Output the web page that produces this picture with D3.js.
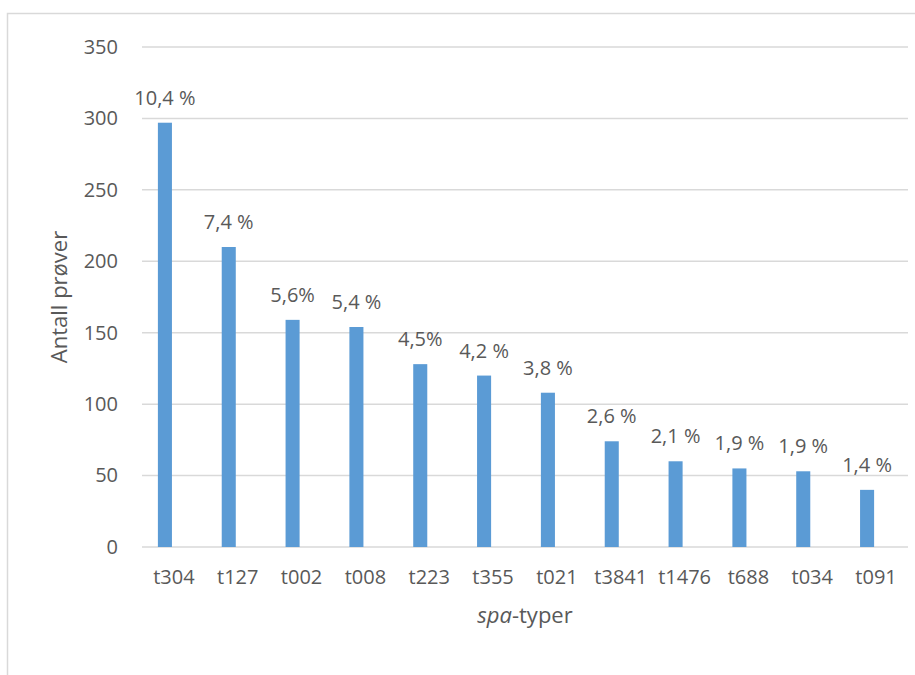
<!DOCTYPE html>
<html>
<head>
<meta charset="utf-8">
<script src="https://cdn.jsdelivr.net/npm/d3@7"></script>
<style>
  html, body { margin: 0; padding: 0; background: #fff; }
  svg text { font-family: "Open Sans", Lato, sans-serif; fill: #595959; }
</style>
</head>
<body>
<svg id="chart" width="915" height="675"></svg>
<script>
// spa-types and sample counts
const categories = ["t304", "t127", "t002", "t008", "t223", "t355", "t021", "t3841", "t1476", "t688", "t034", "t091"];
const counts = [297, 210, 159, 154, 128, 120, 108, 74, 60, 55, 53, 40];
const shareLabels = ["10,4 %", "7,4 %", "5,6%", "5,4 %", "4,5%", "4,2 %", "3,8 %", "2,6 %", "2,1 %", "1,9 %", "1,9 %", "1,4 %"];
const yTicks = [0, 50, 100, 150, 200, 250, 300, 350];

const svg = d3.select("#chart");
const plot = { left: 142, right: 908, top: 47, bottom: 547 };
const tickFont = 20;
const barShift = -9; // bars sit slightly left of their category centre

// chart frame (left and top edges visible)
svg.append("rect")
  .attr("x", 7.5).attr("y", 13.5)
  .attr("width", 930).attr("height", 700)
  .attr("fill", "none").attr("stroke", "#d9d9d9").attr("stroke-width", 1.5);

const x = d3.scaleBand()
  .domain(categories)
  .range([plot.left, plot.right])
  .paddingInner(0.78)
  .paddingOuter(0.39);

const y = d3.scaleLinear()
  .domain([0, 350])
  .range([plot.bottom, plot.top]);

// horizontal gridlines
svg.append("g")
  .selectAll("line")
  .data(yTicks)
  .join("line")
  .attr("x1", plot.left).attr("x2", plot.right)
  .attr("y1", d => y(d)).attr("y2", d => y(d))
  .attr("stroke", "#d9d9d9").attr("stroke-width", 1.5);

// y axis labels
const yAxis = d3.axisLeft(y).tickValues(yTicks).tickSize(0).tickPadding(24);
svg.append("g")
  .attr("transform", `translate(${plot.left},0)`)
  .call(yAxis)
  .call(g => g.select(".domain").remove())
  .call(g => g.selectAll("text")
    .style("font-family", "'Open Sans', Lato, sans-serif")
    .attr("font-size", tickFont).attr("fill", "#595959"));

// x axis labels
const xAxis = d3.axisBottom(x).tickSize(0).tickPadding(23);
svg.append("g")
  .attr("transform", `translate(0,${plot.bottom})`)
  .call(xAxis)
  .call(g => g.select(".domain").remove())
  .call(g => g.selectAll("text")
    .style("font-family", "'Open Sans', Lato, sans-serif")
    .attr("font-size", tickFont).attr("fill", "#595959"));

// bars
svg.append("g")
  .selectAll("rect")
  .data(categories)
  .join("rect")
  .attr("x", d => x(d) + barShift)
  .attr("width", x.bandwidth())
  .attr("y", (d, i) => y(counts[i]))
  .attr("height", (d, i) => y(0) - y(counts[i]))
  .attr("fill", "#5b9bd5");

// share labels above bars
svg.append("g")
  .selectAll("text")
  .data(categories)
  .join("text")
  .attr("x", d => x(d) + barShift + x.bandwidth() / 2)
  .attr("y", (d, i) => y(counts[i]) - 18)
  .attr("text-anchor", "middle")
  .attr("font-size", tickFont)
  .text((d, i) => shareLabels[i]);

// axis titles
svg.append("text")
  .attr("transform", `translate(67,${(plot.top + plot.bottom) / 2}) rotate(-90)`)
  .attr("text-anchor", "middle")
  .attr("font-size", 22)
  .text("Antall prøver");

const xTitle = svg.append("text")
  .attr("x", (plot.left + plot.right) / 2)
  .attr("y", 623)
  .attr("text-anchor", "middle")
  .attr("font-size", 22);
xTitle.append("tspan").attr("font-style", "italic").text("spa");
xTitle.append("tspan").text("-typer");
</script>
</body>
</html>
